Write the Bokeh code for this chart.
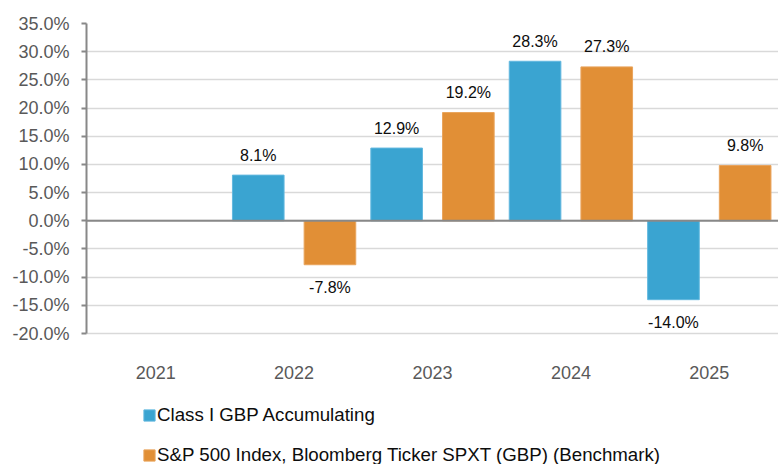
import numpy as np
from bokeh.plotting import figure
from bokeh.models import (ColumnDataSource, Range1d, FactorRange, FixedTicker,
                          PrintfTickFormatter, Span, Legend, LegendItem)
from bokeh.transform import dodge
from bokeh.core.properties import value
from bokeh.embed import file_html
from bokeh.resources import INLINE

# ---- data ----
years = ["2021", "2022", "2023", "2024", "2025"]
fund_label = "Class I GBP Accumulating"
bench_label = "S&P 500 Index, Bloomberg Ticker SPXT (GBP) (Benchmark)"
fund_returns = [None, 8.1, 12.9, 28.3, -14.0]
bench_returns = [None, -7.8, 19.2, 27.3, 9.8]
y_ticks = [-20, -15, -10, -5, 0, 5, 10, 15, 20, 25, 30, 35]

# ---- style / layout ----
FONT = "Liberation Sans"
BLUE, BLUE_EDGE = "#3AA4D1", "#62B8DF"
ORANGE, ORANGE_EDGE = "#E18F36", "#E9A45C"
AXIS_GRAY = "#888888"
GRID_GRAY = "#d9d9d9"
TICK_TEXT = "#595959"
BAR_W = 0.373
OFFSET = 0.259
W, H = 778, 464
TOP, LEFT = 23, 86
AXIS_PX = 310          # pixel height of the -20%..35% band
FRAME_PX = H - TOP     # frame runs down to the bottom edge
span = y_ticks[-1] - y_ticks[0]
view_start = y_ticks[-1] - span * FRAME_PX / AXIS_PX


def series_source(vals):
    xs, ys, txt, offs = [], [], [], []
    for yr, v in zip(years, vals):
        if v is None:
            continue
        xs.append(yr)
        ys.append(v)
        txt.append(f"{v:.1f}%")
        offs.append(-20 if v >= 0 else 23)
    return ColumnDataSource(dict(year=xs, ret=ys, label=txt, yoff=offs))


fund_src = series_source(fund_returns)
bench_src = series_source(bench_returns)

p = figure(width=W, height=H,
           x_range=FactorRange(factors=years),
           y_range=Range1d(view_start, y_ticks[-1]),
           output_backend="svg", toolbar_location=None,
           min_border_left=LEFT, min_border_right=0,
           min_border_top=TOP, min_border_bottom=0)
p.outline_line_color = None
p.background_fill_color = "white"
p.border_fill_color = "white"

renderers = []
for src, col, edge, off in [(fund_src, BLUE, BLUE_EDGE, -OFFSET),
                            (bench_src, ORANGE, ORANGE_EDGE, OFFSET)]:
    r = p.vbar(x=dodge("year", off, range=p.x_range), top="ret", bottom=0,
               width=BAR_W, source=src, fill_color=col, line_color=edge,
               line_width=1)
    renderers.append(r)
    p.text(x=dodge("year", off, range=p.x_range), y="ret", text="label",
           y_offset="yoff", text_align="center", text_baseline="middle",
           text_font=value(FONT), text_font_size="16px", text_color="#0d0d0d",
           source=src)

p.add_layout(Span(location=0, dimension="width", line_color=AXIS_GRAY,
                  line_width=2))

# x axis: labels hang below the -20% line
xa = p.xaxis[0]
xa.fixed_location = y_ticks[0]
xa.axis_line_color = None
xa.major_tick_line_color = None
xa.minor_tick_line_color = None
xa.major_tick_out = 0
xa.minor_tick_out = 0
xa.major_label_standoff = 32
xa.major_label_text_font = FONT
xa.major_label_text_font_size = "18px"
xa.major_label_text_color = TICK_TEXT
p.xgrid.grid_line_color = None

# y axis
ya = p.yaxis[0]
ya.bounds = (y_ticks[0], y_ticks[-1])
ya.ticker = FixedTicker(ticks=y_ticks)
ya.formatter = PrintfTickFormatter(format="%.1f%%")
ya.axis_line_color = AXIS_GRAY
ya.axis_line_width = 2
ya.major_tick_line_color = AXIS_GRAY
ya.major_tick_line_width = 2
ya.major_tick_out = 5
ya.major_tick_in = 0
ya.minor_tick_line_color = None
ya.major_label_standoff = 12
ya.major_label_text_font = FONT
ya.major_label_text_font_size = "18px"
ya.major_label_text_color = TICK_TEXT
p.ygrid.ticker = FixedTicker(ticks=y_ticks)
p.ygrid.grid_line_color = GRID_GRAY
p.ygrid.grid_line_width = 1.5

legend = Legend(items=[LegendItem(label=fund_label, renderers=[renderers[0]]),
                       LegendItem(label=bench_label, renderers=[renderers[1]])],
                location=(56, -2), orientation="vertical",
                padding=0, margin=0, spacing=18,
                glyph_width=14, glyph_height=14, label_height=20,
                label_standoff=1,
                label_text_font=FONT, label_text_font_size="18.7px",
                label_text_color="#0d0d0d",
                background_fill_alpha=0, border_line_color=None)
p.add_layout(legend)

open("out.html", "w").write(file_html(p, INLINE))
